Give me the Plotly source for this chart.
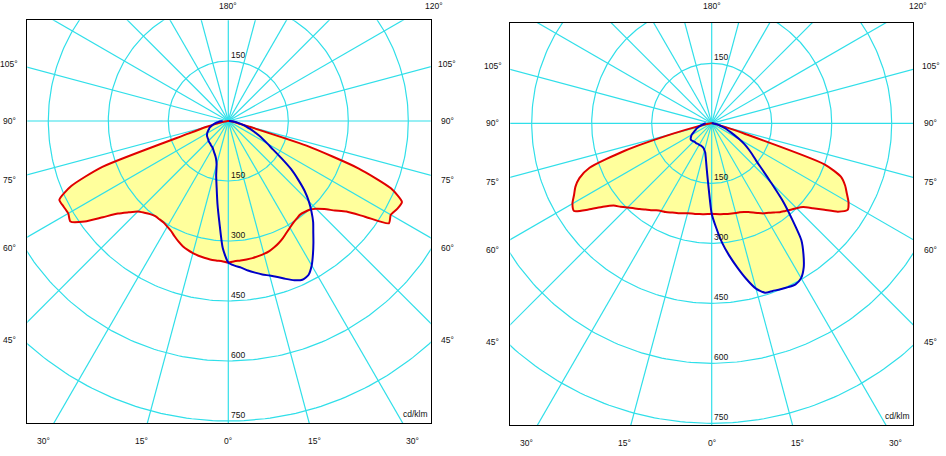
import numpy as np
import plotly.graph_objects as go

# ---------------- data (cd/klm) ----------------
gamma = [0, 2.5, 5, 7.5, 10, 12.5, 15, 17.5, 20, 22.5, 25, 27.5, 30, 32.5, 35, 37.5,
         40, 42.5, 45, 47.5, 50, 52.5, 55, 57.5, 60, 62.5, 65, 67.5, 70, 72.5, 75,
         77.5, 80, 82.5, 85, 87.5, 90]

# left diagram
p1_red_left = [354, 351, 350, 349, 347, 345, 342, 338, 333, 326, 318, 310, 305, 301, 300, 300,
               304, 311, 320, 338, 360, 395, 438, 468, 462, 464, 466, 425, 335, 105, 58,
               30, 15, 8, 4, 2, 0]
p1_red_right = [354, 351, 350, 349, 348, 346, 344, 341, 336, 330, 323, 315, 308, 302, 298, 295,
                297, 301, 310, 326, 348, 372, 417, 476, 469, 476, 479, 440, 346, 205, 52,
                24, 15, 9, 5, 2, 0]
p1_blue_left = [354, 318, 255, 208, 168, 140, 113, 101, 94, 89, 85, 81, 78, 76, 75, 73,
                72, 71, 70, 68, 67, 66, 65, 63, 61, 58, 55, 52, 50, 46, 42,
                38, 34, 29, 25, 20, 14]
p1_blue_right = [354, 362, 368, 377, 385, 393, 400, 409, 420, 431, 438, 434, 417, 394, 371, 349,
                 330, 308, 285, 259, 228, 198, 162, 132, 113, 97, 83, 70, 58, 48, 38,
                 30, 23, 16, 10, 5, 2]

# right diagram
p2_red_left = [226, 227, 228, 229, 230, 231, 233, 236, 239, 242, 246, 250, 253, 258, 265, 272,
               280, 288, 298, 309, 320, 343, 376, 408, 402, 388, 376, 358, 325, 228, 100,
               38, 15, 8, 4, 2, 0]
p2_red_right = [226, 227, 228, 229, 230, 231, 232, 233, 236, 240, 246, 253, 260, 265, 272, 280,
                286, 293, 300, 310, 330, 355, 385, 403, 395, 381, 368, 350, 300, 85, 30,
                15, 9, 6, 4, 2, 0]
p2_blue_left = [226, 166, 128, 103, 86, 75, 70, 66, 64, 63, 62, 62, 62, 62, 62, 63,
                63, 63, 64, 65, 66, 66, 64, 61, 58, 53, 48, 44, 41, 37, 33,
                29, 26, 23, 21, 18, 15]
p2_blue_right = [226, 262, 300, 333, 365, 398, 428, 444, 446, 449, 452, 454, 447, 428, 400, 368,
                 312, 262, 210, 172, 145, 128, 112, 97, 80, 64, 52, 42, 34, 27, 21,
                 16, 12, 8, 5, 3, 0]

ring_values = [150, 300, 450, 600, 750]
ring_labels = ["150", "300", "450", "600", "750"]
top_ring_label = "150"
spoke_step_deg = 15
side_labels = ["105°", "90°", "75°", "60°", "45°"]
bottom_labels = ["30°", "15°", "0°", "15°", "30°"]
top_labels = ["180°", "120°"]
unit_label = "cd/klm"

# ---------------- styling / layout ----------------
W, H = 946, 456
SCALE = 0.4  # px per cd/klm
panels = [
    dict(x0=27.3, x1=430.7, y0=20.3, y1=423.3, cx=228.3, cy=121.0,
         red=(p1_red_left, p1_red_right), blue=(p1_blue_left, p1_blue_right)),
    dict(x0=510.3, x1=913.3, y0=22.7, y1=425.3, cx=711.7, cy=123.3,
         red=(p2_red_left, p2_red_right), blue=(p2_blue_left, p2_blue_right)),
]
GRID = "#30dfe9"
FILL = "#ffff9c"
RED = "#e00000"
BLUE = "#0000c8"
FONT = dict(family="Liberation Sans, Arial, sans-serif", size=8.5, color="#111111")
SMOOTH = 0.6

side_dy = [-57, 0, 59, 127, 219]
bottom_dx = [-185, -87, 0, 86, 184]

g = np.radians(np.array(gamma, dtype=float))


def curve_xy(left, right):
    L = np.array(left, dtype=float)
    R = np.array(right, dtype=float)
    xl = -L * np.sin(g)
    yl = -L * np.cos(g)
    xr = R * np.sin(g)
    yr = -R * np.cos(g)
    x = np.concatenate([xl[::-1], xr[1:]])
    y = np.concatenate([yl[::-1], yr[1:]])
    return x, y


fig = go.Figure()
annotations = []

for i, p in enumerate(panels):
    xa = "x" if i == 0 else "x2"
    ya = "y" if i == 0 else "y2"
    rx, ry = curve_xy(*p["red"])
    bx, by = curve_xy(*p["blue"])

    # fills
    for cx_, cy_ in ((rx, ry), (bx, by)):
        fig.add_trace(go.Scatter(x=cx_, y=cy_, mode="lines", fill="toself",
                                 fillcolor=FILL,
                                 line=dict(width=0, color=FILL, shape="spline", smoothing=SMOOTH),
                                 xaxis=xa, yaxis=ya, hoverinfo="skip", showlegend=False))

    # grid circles
    t = np.linspace(0, 2 * np.pi, 361)
    gx, gy = [], []
    for r in ring_values:
        gx += list(r * np.cos(t)) + [None]
        gy += list(r * np.sin(t)) + [None]
    fig.add_trace(go.Scatter(x=gx, y=gy, mode="lines", line=dict(color=GRID, width=1.2),
                             xaxis=xa, yaxis=ya, hoverinfo="skip", showlegend=False))
    # spokes
    sx, sy = [], []
    for a in range(0, 360, spoke_step_deg):
        ar = np.radians(a)
        sx += [0, 1200 * np.sin(ar), None]
        sy += [0, -1200 * np.cos(ar), None]
    fig.add_trace(go.Scatter(x=sx, y=sy, mode="lines", line=dict(color=GRID, width=1.2),
                             xaxis=xa, yaxis=ya, hoverinfo="skip", showlegend=False))

    # outlines
    fig.add_trace(go.Scatter(x=rx, y=ry, mode="lines",
                             line=dict(color=RED, width=2, shape="spline", smoothing=SMOOTH),
                             xaxis=xa, yaxis=ya, hoverinfo="skip", showlegend=False))
    fig.add_trace(go.Scatter(x=bx, y=by, mode="lines",
                             line=dict(color=BLUE, width=2, shape="spline", smoothing=SMOOTH),
                             xaxis=xa, yaxis=ya, hoverinfo="skip", showlegend=False))

    # axes
    xr_ = [(p["x0"] - p["cx"]) / SCALE, (p["x1"] - p["cx"]) / SCALE]
    yr_ = [-(p["y1"] - p["cy"]) / SCALE, (p["cy"] - p["y0"]) / SCALE]
    axcommon = dict(showgrid=False, zeroline=False, showticklabels=False, ticks="",
                    showline=True, linecolor="black", linewidth=1, mirror=True,
                    fixedrange=True)
    fig.update_layout(**{
        ("xaxis" if i == 0 else "xaxis2"): dict(range=xr_, domain=[p["x0"] / W, p["x1"] / W],
                                                 anchor=ya, **axcommon),
        ("yaxis" if i == 0 else "yaxis2"): dict(range=yr_, domain=[1 - p["y1"] / H, 1 - p["y0"] / H],
                                                 anchor=xa, **axcommon),
    })

    # ring labels (data coords)
    for r, lab in zip(ring_values, ring_labels):
        annotations.append(dict(x=3, y=-r, xref=xa, yref=ya, text=lab, showarrow=False,
                                xanchor="left", yanchor="bottom", font=FONT,
                                borderpad=0))
    annotations.append(dict(x=3, y=ring_values[0], xref=xa, yref=ya, text=top_ring_label,
                            showarrow=False, xanchor="left", yanchor="bottom", font=FONT,
                            borderpad=0))
    annotations.append(dict(x=(p["x1"] - 2 - p["cx"]) / SCALE, y=-(p["y1"] - 3 - p["cy"]) / SCALE,
                            xref=xa, yref=ya, text=unit_label, showarrow=False,
                            xanchor="right", yanchor="bottom", font=FONT, borderpad=0))

    # angle labels (paper coords from pixel offsets)
    def add_px(px, py, text):
        annotations.append(dict(x=px / W, y=1 - py / H, xref="paper", yref="paper",
                                text=text, showarrow=False, xanchor="center",
                                yanchor="middle", font=FONT, borderpad=0))

    for dy, lab in zip(side_dy, side_labels):
        add_px(p["cx"] - 219, p["cy"] + dy, lab)
        add_px(p["cx"] + 219, p["cy"] + dy, lab)
    for dx, lab in zip(bottom_dx, bottom_labels):
        add_px(p["cx"] + dx, p["cy"] + 320, lab)
    add_px(p["cx"], 6, top_labels[0])
    add_px(p["cx"] + 206, 6, top_labels[1])

fig.update_layout(width=W, height=H, autosize=False,
                  margin=dict(l=0, r=0, t=0, b=0, pad=0),
                  paper_bgcolor="white", plot_bgcolor="white",
                  showlegend=False, hovermode=False,
                  annotations=annotations)

fig.write_html("out.html", config={"displayModeBar": False},
               post_script="document.body.style.margin='0';document.body.style.overflow='hidden';")
